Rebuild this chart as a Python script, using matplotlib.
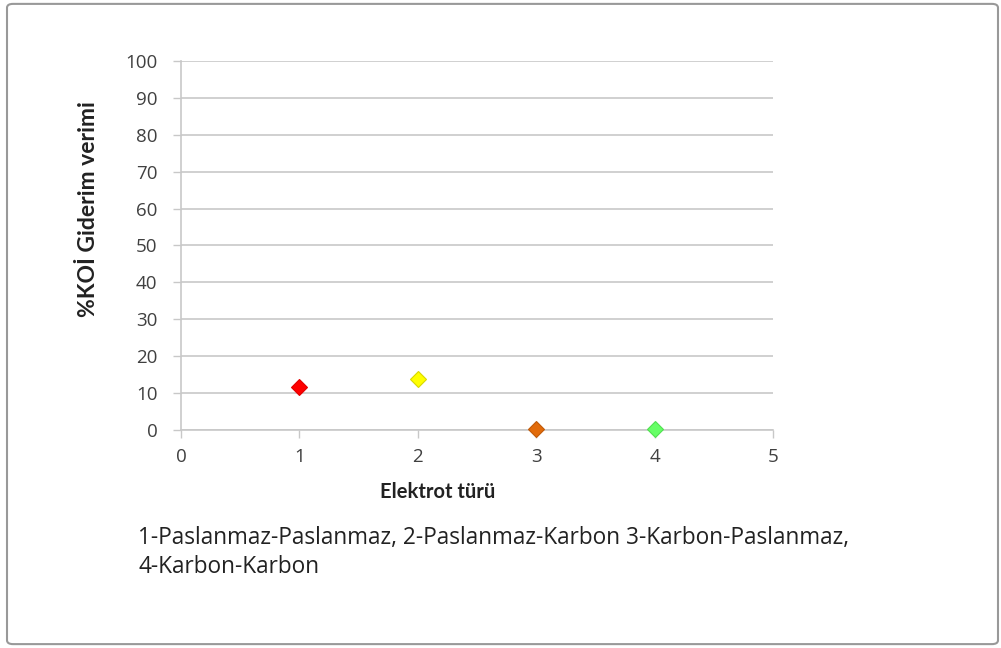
import matplotlib.pyplot as plt
from matplotlib.patches import FancyBboxPatch

# KOİ giderim verimi, elektrot türüne göre
elektrot = [1, 2, 3, 4]
verim = [11.7, 13.9, 0.2, 0.2]
renkler = ['#ff0000', '#ffff00', '#e26b0a', '#66ff66']
kenarlar = ['#e00000', '#d8d800', '#c05a08', '#50e050']

x_ticks = [0, 1, 2, 3, 4, 5]
y_ticks = [0, 10, 20, 30, 40, 50, 60, 70, 80, 90, 100]
aciklama = ['1-Paslanmaz-Paslanmaz, 2-Paslanmaz-Karbon 3-Karbon-Paslanmaz,',
            '4-Karbon-Karbon']

plt.rcParams['font.family'] = ['Open Sans', 'DejaVu Sans']

fig = plt.figure(figsize=(10.01, 6.48), dpi=100)

# dış çerçeve
cerceve = FancyBboxPatch((0.007, 0.006), 0.990, 0.988,
                         boxstyle='round,pad=0,rounding_size=0.006',
                         transform=fig.transFigure, facecolor='none',
                         edgecolor='#999999', linewidth=1.5, zorder=-1)
fig.patches.append(cerceve)

ax = fig.add_axes([0.1808, 0.3364, 0.5914, 0.5695])
ax.set_facecolor('none')

for xi, yi, c, e in zip(elektrot, verim, renkler, kenarlar):
    ax.plot(xi, yi, marker='D', markersize=8.5, color=c,
            markeredgecolor=e, markeredgewidth=0.8, linestyle='none',
            clip_on=False, zorder=3)

ax.set_xlim(0, 5)
ax.set_ylim(0, 100)
ax.set_xticks(x_ticks)
ax.set_yticks(y_ticks)
ax.tick_params(axis='both', labelsize=13.5, labelcolor='#404040',
               length=6, width=1, direction='out', color='#c8c8c8')
ax.tick_params(axis='x', pad=7)
ax.tick_params(axis='y', pad=11)
ax.grid(axis='y', color='#c8c8c8', linewidth=1.2)
ax.set_axisbelow(True)
for s in ['top', 'right']:
    ax.spines[s].set_visible(False)
for s in ['left', 'bottom']:
    ax.spines[s].set_color('#c8c8c8')
    ax.spines[s].set_linewidth(1.2)

fig.text(0.088, 0.677, '%KOİ Giderim verimi', rotation=90, fontsize=16.5,
         fontweight='bold', family=['Lato', 'DejaVu Sans'],
         color='#222222', ha='center', va='center')
fig.text(0.437, 0.240, 'Elektrot türü', fontsize=14.5, fontweight='bold',
         family=['Lato', 'DejaVu Sans'],
         color='#222222', ha='center', va='center')
fig.text(0.138, 0.170, aciklama[0], fontsize=16.3, color='#222222',
         ha='left', va='center')
fig.text(0.138, 0.125, aciklama[1], fontsize=16.3, color='#222222',
         ha='left', va='center')

fig.savefig('out.png', dpi=100)
